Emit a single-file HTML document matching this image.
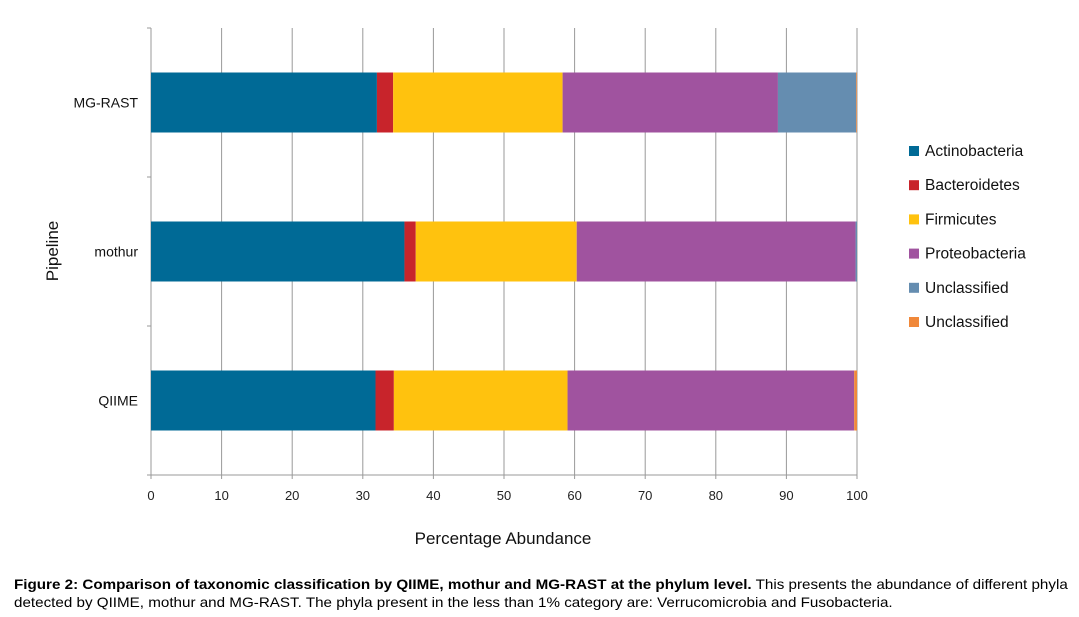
<!DOCTYPE html>
<html><head><meta charset="utf-8"><style>
body{margin:0;background:#fff;width:1079px;height:617px;overflow:hidden;font-family:"Liberation Sans",sans-serif}
#cap{position:absolute;left:14px;top:575px;width:1000px;font-size:14px;line-height:18px;color:#000;transform:scaleX(1.085);transform-origin:0 0;white-space:nowrap}
</style></head><body>
<svg id="chart" width="1079" height="570" style="position:absolute;left:0;top:0" font-family="Liberation Sans, sans-serif"></svg>
<div id="cap"><b>Figure 2: Comparison of taxonomic classification by QIIME, mothur and MG-RAST at the phylum level.</b> This presents the abundance of different phyla<br>detected by QIIME, mothur and MG-RAST. The phyla present in the less than 1% category are: Verrucomicrobia and Fusobacteria.</div>
<script>
const categories=["MG-RAST","mothur","QIIME"];
const seriesNames=["Actinobacteria","Bacteroidetes","Firmicutes","Proteobacteria","Unclassified","Unclassified"];
const colors=["#006a96","#c8242b","#ffc20e","#a0539f","#658db0","#f0883a"];
const actino=[32,35.9,31.8];
const bacter=[2.3,1.6,2.6];
const firmic=[24,22.8,24.6];
const proteo=[30.5,39.5,40.6];
const uncl1=[11.1,0.2,0];
const uncl2=[0.1,0,0.4];
const xTicks=[0,10,20,30,40,50,60,70,80,90,100];
const series=[actino,bacter,firmic,proteo,uncl1,uncl2];
const svg=document.getElementById('chart');const NS='http://www.w3.org/2000/svg';
function mk(t,a,txt){const e=document.createElementNS(NS,t);for(const k in a)e.setAttribute(k,a[k]);if(txt!=null)e.textContent=txt;svg.appendChild(e);return e;}
const x0=151,x1=857,yTop=28,yBot=475;
const xs=v=>x0+(x1-x0)*v/100;
const bandH=(yBot-yTop)/categories.length;
const yc=i=>yTop+bandH*(i+0.5);
xTicks.forEach(t=>{
 const g=mk('line',{x1:xs(t),x2:xs(t),y1:yTop,y2:yBot+4,stroke:'#999','stroke-width':1});
 
 const l=mk('text',{x:xs(t),y:yBot+25,'text-anchor':'middle','font-size':13,fill:'#222'},t);
 
});
let a=mk('line',{x1:x0-4,x2:x1,y1:yBot,y2:yBot,stroke:'#999'});
for(let i=0;i<=categories.length;i++){const t=mk('line',{x1:x0-4,x2:x0,y1:yTop+bandH*i,y2:yTop+bandH*i,stroke:'#999'});}
categories.forEach((c,i)=>{
 let acc=0;const h=60;
 series.forEach((s,k)=>{
  const v=s[i];if(v<=0){return;}
  const r=mk('rect',{x:xs(acc),y:yc(i)-h/2,width:xs(acc+v)-xs(acc),height:h,fill:colors[k]});
  
  acc+=v;
 });
 const l=mk('text',{x:138,y:yc(i)+5,'text-anchor':'end','font-size':14,fill:'#111'},c);
 
});
let t=mk('text',{x:503,y:544,'text-anchor':'middle','font-size':17,fill:'#111'},'Percentage Abundance');
t=mk('text',{x:0,y:0,'text-anchor':'middle','font-size':17,fill:'#111',transform:'translate(58,251) rotate(-90)'},'Pipeline');
seriesNames.forEach((n,k)=>{
 const y=151+k*34.2;
 const r=mk('rect',{x:909,y:y-5,width:10,height:10,fill:colors[k]});
 const l=mk('text',{x:925,y:y+5,'font-size':15.5,fill:'#111'},n);
});
</script>
</body></html>
